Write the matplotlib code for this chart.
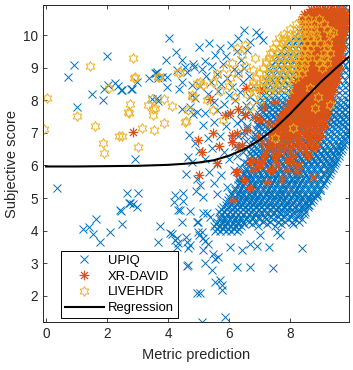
import numpy as np
import matplotlib.pyplot as plt
from matplotlib.path import Path

plt.rcParams['font.family'] = ['Liberation Sans', 'DejaVu Sans']

# ---- UPIQ: scattered points (x, y)
upiq_sparse_x = [0.72, 0.9, 2.0, 1.02, 1.5, 1.88, 1.9, 2.02, 2.26, 2.37, 2.45, 2.79, 2.97, 2.92,
                 3.38, 3.57, 3.63, 3.48, 3.67, 3.93, 3.96, 3.96, 4.04, 4.26, 3.67, 4.3, 4.36,
                 4.46, 4.82, 4.56, 4.85, 4.62, 3.6, 3.8, 4.46, 2.82, 2.49, 4.79, 4.79, 4.89,
                 3.64, 4.46, 4.72, 4.82, 4.95, 4.66,
                 0.36, 1.21, 1.41, 1.54, 1.64, 1.77, 2.1, 2.49, 2.46, 2.66, 2.72, 2.85, 2.97,
                 3.02, 3.74, 3.67, 4.07, 4.13, 4.23, 4.2, 4.3, 4.33, 4.33, 4.3, 2.75, 2.43,
                 4.49, 4.49, 4.39, 4.72, 4.46, 4.92, 4.23, 4.59, 4.62, 4.72, 4.66, 4.62, 4.95,
                 4.98, 4.95, 5.15, 5.6, 4.98, 5.15, 5.28, 5.38, 5.11, 5.02, 5.15, 5.21, 5.31,
                 5.15, 4.66, 5.21, 5.48, 5.54, 5.64, 5.44, 5.54, 5.7, 5.77, 5.77, 5.05, 5.87,
                 5.11, 6.03, 6.43, 6.26, 6.69, 7.44, 6.69, 6.92, 7.31, 8.39, 7.02, 7.67, 7.57,
                 8.98, 8.66, 8.43, 9.31, 8.6, 8.9]
upiq_sparse_y = [8.71, 9.08, 9.36, 7.8, 8.19, 8.0, 8.34, 8.47, 8.53, 8.44, 8.31, 8.34, 8.56, 6.19,
                 8.68, 8.84, 8.87, 8.03, 8.68, 9.23, 8.4, 8.71, 9.9, 9.48, 7.97, 8.93, 8.34,
                 9.23, 9.11, 9.02, 9.02, 8.87, 8.84, 8.71, 8.56, 8.34, 8.31, 8.47, 8.16, 8.06,
                 8.06, 7.73, 7.79, 7.58, 7.64, 6.26,
                 5.31, 4.05, 4.11, 3.9, 4.36, 3.65, 3.96, 4.2, 4.6, 5.15, 4.85, 4.82, 4.72,
                 5.15, 4.14, 3.65, 3.93, 3.9, 5.09, 4.89, 3.77, 4.63, 3.62, 3.5, 4.85, 4.63,
                 5.15, 4.91, 4.63, 4.6, 4.26, 5.21, 3.71, 3.8, 3.65, 3.56, 3.47, 2.91, 4.26,
                 3.96, 2.09, 5.03, 5.12, 4.26, 4.54, 4.54, 4.42, 3.96, 3.87, 3.77, 3.68, 3.59,
                 3.4, 2.94, 3.0, 3.28, 3.13, 3.19, 2.79, 2.42, 2.48, 2.33, 2.18, 2.09, 1.35,
                 1.2, 3.5, 3.4, 2.88, 2.88, 2.85, 3.59, 3.53, 3.5, 3.47, 3.87, 3.87, 3.96,
                 5.25, 4.94, 4.69, 5.95, 4.8, 5.05]

# ---- UPIQ: medium density area left of the main cloud
upiq_mid_x = [5.0, 5.2, 5.35, 5.55, 5.7, 5.9, 6.05, 6.25, 6.4, 6.6, 5.1, 5.45, 5.8, 6.15, 6.5,
              5.25, 5.6, 5.95, 6.3, 6.65, 5.05, 5.4, 5.75, 6.1, 6.45, 6.8, 5.3, 5.65, 6.0,
              6.35, 6.7, 5.5, 5.85, 6.2, 6.55, 6.9, 5.2, 5.6, 6.0, 6.4, 6.8, 5.15, 5.5, 5.9,
              6.25, 6.6, 6.95, 4.7, 4.9, 5.3, 5.7, 6.1, 6.5, 6.85, 5.0, 5.45, 5.85, 6.2, 6.55,
              4.8, 5.2, 5.6, 6.0, 4.6, 4.95, 5.35, 5.75, 6.15, 6.6, 5.05, 5.5, 5.95, 6.35,
              6.75, 7.1, 6.3, 6.7, 7.0, 6.5, 6.9,
              6.3, 6.45, 6.35, 6.5, 6.25, 6.45, 6.4, 6.55, 6.3, 6.5, 6.6, 6.4, 6.55, 6.65]
upiq_mid_y = [9.65, 9.2, 9.75, 9.4, 9.6, 9.35, 9.7, 9.5, 9.25, 9.55, 8.95, 9.05, 9.1, 8.95, 9.0,
              8.75, 8.8, 8.7, 8.85, 8.75, 8.45, 8.55, 8.5, 8.4, 8.55, 8.45, 8.2, 8.3, 8.15,
              8.25, 8.1, 7.95, 7.9, 8.0, 7.85, 7.95, 7.6, 7.7, 7.55, 7.65, 7.5, 7.25, 7.35, 7.2,
              7.3, 7.15, 7.25, 6.95, 6.7, 6.85, 6.9, 6.8, 6.95, 6.85, 6.45, 6.55, 6.4, 6.6, 6.5,
              6.1, 6.2, 6.05, 6.2, 5.75, 5.6, 5.8, 5.7, 5.85, 5.65, 5.4, 5.45, 5.35, 5.5,
              5.4, 9.85, 9.9, 9.8, 10.0, 10.15, 10.1,
              5.6, 5.75, 5.95, 6.1, 6.3, 6.4, 6.6, 6.75, 6.9, 7.05, 7.2, 7.4, 7.55, 7.7]

# ---- UPIQ: dense cloud, one row per subjective score level
upiq_rows = [
    (3.98, [5.55, 5.72, 5.9, 6.08, 6.25]),
    (4.05, [5.62, 5.8, 5.98, 6.16, 6.34]),
    (4.13, [5.5, 5.68, 5.85, 6.03, 6.2, 6.38, 6.95, 7.5]),
    (4.2, [5.58, 5.76, 5.94, 6.12, 6.3, 6.48, 6.75, 7.25, 7.7, 8.1]),
    (4.28, [5.62, 5.78, 5.95, 6.12, 6.3, 6.47, 6.65, 6.88, 7.1, 7.35, 7.6, 7.85, 8.05, 8.28]),
    (4.35, [5.7, 5.87, 6.04, 6.21, 6.39, 6.56, 6.75, 6.97, 7.2, 7.45, 7.7, 7.95, 8.18, 8.38]),
    (4.42, [5.7, 5.88, 6.05, 6.22, 6.4, 6.58, 6.78, 6.98, 7.18, 7.38, 7.6, 7.82, 8.02, 8.25]),
    (4.5, [5.75, 5.93, 6.11, 6.28, 6.46, 6.64, 6.85, 7.05, 7.25, 7.45, 7.66, 7.87, 8.08, 8.3, 8.45]),
    (4.57, [5.66, 5.84, 6.02, 6.18, 6.36, 6.55, 6.72, 6.9, 7.05, 7.24, 7.46, 7.66, 7.88, 8.1, 8.3, 8.5]),
    (4.65, [5.75, 5.93, 6.1, 6.27, 6.45, 6.63, 6.8, 6.97, 7.15, 7.34, 7.53, 7.72, 7.9, 8.08, 8.28, 8.45]),
    (4.72, [5.8, 5.98, 6.16, 6.35, 6.52, 6.7, 6.88, 7.06, 7.25, 7.43, 7.62, 7.8, 7.98, 8.18, 8.4, 8.58]),
    (4.8, [5.89, 6.07, 6.25, 6.44, 6.61, 6.79, 6.97, 7.15, 7.34, 7.52, 7.71, 7.89, 8.07, 8.27, 8.47, 8.62]),
    (4.87, [5.9, 6.1, 6.28, 6.46, 6.64, 6.82, 7.0, 7.18, 7.36, 7.55, 7.73, 7.9, 8.1, 8.28, 8.48, 8.68]),
    (4.95, [5.98, 6.19, 6.37, 6.55, 6.73, 6.91, 7.09, 7.27, 7.46, 7.64, 7.82, 8.0, 8.19, 8.38, 8.58, 8.75]),
    (5.02, [6.0, 6.2, 6.38, 6.56, 6.74, 6.92, 7.1, 7.3, 7.48, 7.66, 7.84, 8.02, 8.22, 8.4, 8.6, 8.8]),
    (5.1, [6.1, 6.29, 6.47, 6.65, 6.83, 7.01, 7.2, 7.39, 7.57, 7.75, 7.93, 8.12, 8.31, 8.5, 8.7, 8.88]),
    (5.17, [6.08, 6.28, 6.47, 6.65, 6.83, 7.02, 7.2, 7.38, 7.57, 7.75, 7.94, 8.12, 8.3, 8.5, 8.7, 8.9]),
    (5.25, [6.18, 6.37, 6.56, 6.74, 6.92, 7.11, 7.29, 7.48, 7.66, 7.85, 8.03, 8.21, 8.4, 8.6, 8.8, 8.98]),
    (5.32, [6.2, 6.38, 6.56, 6.75, 6.93, 7.12, 7.3, 7.48, 7.67, 7.85, 8.04, 8.22, 8.4, 8.6, 8.8, 9.0]),
    (5.4, [6.29, 6.47, 6.65, 6.84, 7.02, 7.21, 7.39, 7.57, 7.76, 7.94, 8.13, 8.31, 8.5, 8.7, 8.9, 9.08]),
    (5.47, [6.32, 6.5, 6.68, 6.86, 7.04, 7.22, 7.4, 7.58, 7.77, 7.95, 8.14, 8.32, 8.5, 8.7, 8.9, 9.1]),
    (5.55, [6.41, 6.59, 6.77, 6.95, 7.13, 7.31, 7.49, 7.68, 7.86, 8.05, 8.23, 8.41, 8.6, 8.8, 9.0, 9.18]),
    (5.62, [6.4, 6.58, 6.77, 6.95, 7.13, 7.32, 7.5, 7.68, 7.87, 8.05, 8.24, 8.42, 8.6, 8.8, 9.0, 9.2]),
    (5.7, [6.49, 6.68, 6.86, 7.04, 7.23, 7.41, 7.59, 7.78, 7.96, 8.15, 8.33, 8.51, 8.7, 8.9, 9.1, 9.28]),
    (5.77, [6.48, 6.66, 6.85, 7.03, 7.22, 7.4, 7.58, 7.77, 7.95, 8.14, 8.32, 8.5, 8.7, 8.9, 9.1, 9.3]),
    (5.85, [6.57, 6.75, 6.94, 7.12, 7.31, 7.49, 7.68, 7.86, 8.05, 8.23, 8.41, 8.6, 8.8, 9.0, 9.2, 9.36]),
    (5.92, [6.55, 6.74, 6.92, 7.1, 7.3, 7.48, 7.66, 7.85, 8.04, 8.22, 8.4, 8.6, 8.8, 9.0, 9.2, 9.4]),
    (6.0, [6.64, 6.83, 7.01, 7.2, 7.39, 7.57, 7.76, 7.95, 8.13, 8.31, 8.5, 8.7, 8.9, 9.1, 9.3, 9.44]),
    (6.07, [6.6, 6.8, 6.98, 7.17, 7.36, 7.55, 7.74, 7.92, 8.1, 8.3, 8.48, 8.68, 8.88, 9.08, 9.28, 9.48]),
    (6.15, [6.7, 6.89, 7.08, 7.27, 7.45, 7.64, 7.83, 8.02, 8.2, 8.39, 8.58, 8.78, 8.98, 9.18, 9.38, 9.52]),
    (6.22, [6.66, 6.85, 7.04, 7.23, 7.42, 7.6, 7.8, 7.98, 8.18, 8.36, 8.56, 8.75, 8.95, 9.15, 9.35, 9.55]),
    (6.3, [6.76, 6.95, 7.13, 7.32, 7.51, 7.7, 7.89, 8.08, 8.27, 8.46, 8.65, 8.85, 9.05, 9.25, 9.45, 9.6]),
    (6.37, [6.7, 6.9, 7.1, 7.28, 7.48, 7.66, 7.86, 8.05, 8.24, 8.44, 8.62, 8.82, 9.02, 9.22, 9.42, 9.62]),
    (6.45, [6.8, 7.0, 7.19, 7.38, 7.57, 7.76, 7.95, 8.14, 8.33, 8.52, 8.71, 8.91, 9.11, 9.31, 9.51, 9.66]),
    (6.52, [6.72, 6.92, 7.12, 7.32, 7.52, 7.7, 7.9, 8.1, 8.3, 8.5, 8.7, 8.9, 9.1, 9.3, 9.5, 9.7]),
    (6.6, [6.82, 7.02, 7.22, 7.42, 7.61, 7.8, 8.0, 8.2, 8.4, 8.6, 8.8, 9.0, 9.2, 9.4, 9.58, 9.73]),
    (6.67, [6.78, 6.98, 7.18, 7.38, 7.58, 7.78, 7.98, 8.18, 8.38, 8.58, 8.78, 8.98, 9.18, 9.38, 9.58, 9.76]),
    (6.75, [6.88, 7.08, 7.28, 7.48, 7.68, 7.88, 8.08, 8.28, 8.48, 8.68, 8.88, 9.08, 9.28, 9.48, 9.66, 9.8]),
    (6.82, [6.8, 7.0, 7.2, 7.4, 7.6, 7.8, 8.0, 8.2, 8.4, 8.6, 8.8, 9.0, 9.2, 9.4, 9.6, 9.8]),
    (6.9, [6.9, 7.1, 7.3, 7.5, 7.7, 7.9, 8.1, 8.3, 8.5, 8.7, 8.9, 9.1, 9.3, 9.5, 9.7, 9.86]),
    (6.97, [6.85, 7.05, 7.25, 7.45, 7.65, 7.85, 8.05, 8.25, 8.45, 8.65, 8.85, 9.05, 9.25, 9.45, 9.65, 9.85]),
    (7.05, [6.95, 7.15, 7.35, 7.55, 7.75, 7.95, 8.15, 8.35, 8.55, 8.75, 8.95, 9.15, 9.35, 9.55, 9.75, 9.9]),
    (7.12, [6.88, 7.08, 7.28, 7.48, 7.68, 7.88, 8.08, 8.28, 8.48, 8.68, 8.88, 9.08, 9.28, 9.48, 9.68, 9.9]),
    (7.2, [6.98, 7.18, 7.38, 7.58, 7.78, 7.98, 8.18, 8.38, 8.58, 8.78, 8.98, 9.18, 9.38, 9.58, 9.78]),
    (7.27, [6.92, 7.12, 7.32, 7.52, 7.72, 7.92, 8.12, 8.32, 8.52, 8.72, 8.92, 9.12, 9.32, 9.52, 9.72, 9.9]),
    (7.35, [7.02, 7.22, 7.42, 7.62, 7.82, 8.02, 8.22, 8.42, 8.62, 8.82, 9.02, 9.22, 9.42, 9.62, 9.82]),
    (7.42, [6.95, 7.15, 7.35, 7.55, 7.75, 7.95, 8.15, 8.35, 8.55, 8.75, 8.95, 9.15, 9.35, 9.55, 9.75, 9.9]),
    (7.5, [7.05, 7.25, 7.45, 7.65, 7.85, 8.05, 8.25, 8.45, 8.65, 8.85, 9.05, 9.25, 9.45, 9.65, 9.85]),
    (7.57, [7.0, 7.2, 7.4, 7.6, 7.8, 8.0, 8.2, 8.4, 8.6, 8.8, 9.0, 9.2, 9.4, 9.6, 9.8]),
    (7.65, [7.1, 7.3, 7.5, 7.7, 7.9, 8.1, 8.3, 8.5, 8.7, 8.9, 9.1, 9.3, 9.5, 9.7, 9.9]),
    (7.72, [7.02, 7.22, 7.42, 7.62, 7.82, 8.02, 8.22, 8.42, 8.62, 8.82, 9.02, 9.22, 9.42, 9.62, 9.82]),
    (7.8, [7.12, 7.32, 7.52, 7.72, 7.92, 8.12, 8.32, 8.52, 8.72, 8.92, 9.12, 9.32, 9.52, 9.72, 9.9]),
    (7.87, [7.05, 7.25, 7.45, 7.65, 7.85, 8.05, 8.25, 8.45, 8.65, 8.85, 9.05, 9.25, 9.45, 9.65, 9.88]),
    (7.95, [7.15, 7.35, 7.55, 7.75, 7.95, 8.15, 8.35, 8.55, 8.75, 8.95, 9.15, 9.35, 9.55, 9.75]),
    (8.02, [7.08, 7.28, 7.48, 7.68, 7.88, 8.08, 8.28, 8.48, 8.68, 8.88, 9.08, 9.28, 9.48, 9.68, 9.9]),
    (8.17, [7.1, 7.3, 7.5, 7.7, 7.9, 8.1, 8.3, 8.5, 8.7, 8.9, 9.1, 9.3, 9.5, 9.7, 9.9]),
    (8.32, [7.12, 7.32, 7.52, 7.72, 7.92, 8.12, 8.32, 8.52, 8.72, 8.92, 9.12, 9.32, 9.52, 9.72, 9.9]),
    (8.47, [7.15, 7.35, 7.55, 7.75, 7.95, 8.15, 8.35, 8.55, 8.75, 8.95, 9.15, 9.35, 9.55, 9.75, 9.9]),
    (8.62, [7.2, 7.4, 7.6, 7.8, 8.0, 8.2, 8.4, 8.6, 8.8, 9.0, 9.2, 9.4, 9.6, 9.8]),
    (8.77, [7.28, 7.48, 7.68, 7.88, 8.08, 8.28, 8.48, 8.68, 8.88, 9.08, 9.28, 9.48, 9.68, 9.9]),
    (8.92, [7.35, 7.55, 7.75, 7.95, 8.15, 8.35, 8.55, 8.75, 8.95, 9.15, 9.35, 9.55, 9.75, 9.9]),
    (9.07, [7.42, 7.62, 7.82, 8.02, 8.22, 8.42, 8.62, 8.82, 9.02, 9.22, 9.42, 9.62, 9.82]),
    (9.22, [7.5, 7.7, 7.9, 8.1, 8.3, 8.5, 8.7, 8.9, 9.1, 9.3, 9.5, 9.7, 9.9]),
    (9.37, [7.58, 7.78, 7.98, 8.18, 8.38, 8.58, 8.78, 8.98, 9.18, 9.38, 9.58, 9.78]),
    (9.52, [7.7, 7.9, 8.1, 8.3, 8.5, 8.7, 8.9, 9.1, 9.3, 9.5, 9.7, 9.9]),
    (9.67, [7.85, 8.05, 8.25, 8.45, 8.65, 8.85, 9.05, 9.25, 9.45, 9.65, 9.85]),
    (9.82, [8.0, 8.2, 8.4, 8.6, 8.8, 9.0, 9.2, 9.4, 9.6, 9.8]),
    (9.97, [8.15, 8.35, 8.55, 8.75, 8.95, 9.15, 9.35, 9.55, 9.75, 9.92]),
    (10.12, [8.3, 8.5, 8.7, 8.9, 9.1, 9.3, 9.5, 9.7, 9.9]),
    (10.27, [8.45, 8.65, 8.85, 9.05, 9.25, 9.45, 9.65, 9.85]),
    (10.42, [8.55, 8.75, 8.95, 9.15, 9.35, 9.55, 9.75, 9.92]),
    (10.57, [8.7, 8.9, 9.1, 9.3, 9.5, 9.7, 9.9]),
    (10.72, [8.85, 9.05, 9.25, 9.45, 9.65, 9.85]),
    (10.85, [9.1, 9.35, 9.6, 9.8]),
]

# ---- XR-DAVID
xr_sparse_x = [2.85, 4.98, 5.11, 5.48, 5.67, 5.02, 5.6, 6.23, 6.69, 7.02, 6.56, 6.03, 5.87, 6.3,
               6.52, 5.38, 6.1, 6.1, 6.26, 6.43, 6.3, 6.26, 6.49, 6.13, 7.02, 7.28, 6.95, 7.08,
               6.79, 7.08, 6.79, 6.95, 7.34, 7.34, 8.75, 8.23, 7.41, 8.0, 7.6, 7.9, 8.3, 8.6,
               6.6, 6.85, 7.15, 7.5, 6.7, 7.25, 7.75]
xr_sparse_y = [7.02, 6.78, 6.41, 6.99, 6.6, 5.71, 6.07, 5.8, 6.1, 8.31, 8.37, 7.61, 7.55, 7.73,
               7.55, 8.03, 6.93, 6.72, 6.99, 6.63, 6.56, 5.8, 5.55, 4.95, 7.39, 7.3, 6.87, 6.69,
               6.17, 6.1, 5.86, 5.98, 5.86, 6.69, 5.64, 5.8, 5.86, 6.1, 6.35, 6.2, 6.0, 6.3,
               7.1, 7.5, 7.8, 7.95, 5.3, 5.5, 5.6]
xr_rows = [
    (10.8, [8.7, 8.85, 9.0, 9.15, 9.3, 9.45, 9.6, 9.75]),
    (10.72, [8.62, 8.78, 8.92, 9.08, 9.22, 9.38, 9.52, 9.68, 9.82]),
    (10.65, [8.45, 8.6, 8.75, 8.9, 9.05, 9.2, 9.35, 9.5, 9.65, 9.8]),
    (10.57, [8.48, 8.62, 8.78, 8.92, 9.08, 9.22, 9.38, 9.52, 9.68, 9.82]),
    (10.5, [8.4, 8.55, 8.7, 8.85, 9.0, 9.15, 9.3, 9.45, 9.6, 9.75, 9.88]),
    (10.42, [8.42, 8.58, 8.72, 8.88, 9.02, 9.18, 9.32, 9.48, 9.62, 9.78]),
    (10.35, [8.45, 8.6, 8.75, 8.9, 9.05, 9.2, 9.35, 9.5, 9.65, 9.8]),
    (10.27, [8.48, 8.62, 8.78, 8.92, 9.08, 9.22, 9.38, 9.52, 9.68, 9.82]),
    (10.2, [8.5, 8.65, 8.8, 8.95, 9.1, 9.25, 9.4, 9.55, 9.7, 9.85]),
    (10.12, [8.52, 8.68, 8.82, 8.98, 9.12, 9.28, 9.42, 9.58, 9.72]),
    (10.05, [8.55, 8.7, 8.85, 9.0, 9.15, 9.3, 9.45, 9.6, 9.75]),
    (9.97, [8.48, 8.62, 8.78, 8.92, 9.08, 9.22, 9.38, 9.52, 9.68]),
    (9.9, [8.55, 8.7, 8.85, 9.0, 9.15, 9.3, 9.45, 9.6, 9.75]),
    (9.82, [8.48, 8.62, 8.78, 8.92, 9.08, 9.22, 9.38, 9.52, 9.68]),
    (9.75, [8.55, 8.7, 8.85, 9.0, 9.15, 9.3, 9.45, 9.6, 9.72]),
    (9.67, [8.48, 8.62, 8.78, 8.92, 9.08, 9.22, 9.38, 9.52, 9.66]),
    (9.6, [8.5, 8.65, 8.8, 8.95, 9.1, 9.25, 9.4, 9.55, 9.7]),
    (9.52, [8.42, 8.58, 8.72, 8.88, 9.02, 9.18, 9.32, 9.48, 9.62]),
    (9.45, [8.5, 8.65, 8.8, 8.95, 9.1, 9.25, 9.4, 9.55, 9.68]),
    (9.37, [8.42, 8.58, 8.72, 8.88, 9.02, 9.18, 9.32, 9.48, 9.6]),
    (9.3, [8.45, 8.6, 8.75, 8.9, 9.05, 9.2, 9.35, 9.5, 9.65]),
    (9.22, [8.38, 8.52, 8.68, 8.82, 8.98, 9.12, 9.28, 9.42, 9.56]),
    (9.15, [8.45, 8.6, 8.75, 8.9, 9.05, 9.2, 9.35, 9.5, 9.62]),
    (9.07, [8.35, 8.48, 8.62, 8.78, 8.92, 9.08, 9.22, 9.38, 9.52]),
    (9.0, [8.4, 8.55, 8.7, 8.85, 9.0, 9.15, 9.3, 9.45, 9.6]),
    (8.92, [8.32, 8.48, 8.62, 8.78, 8.92, 9.08, 9.22, 9.38, 9.5]),
    (8.85, [8.4, 8.55, 8.7, 8.85, 9.0, 9.15, 9.3, 9.45, 9.58]),
    (8.77, [8.28, 8.42, 8.58, 8.72, 8.88, 9.02, 9.18, 9.32, 9.48]),
    (8.7, [8.35, 8.5, 8.65, 8.8, 8.95, 9.1, 9.25, 9.4, 9.55]),
    (8.62, [8.22, 8.38, 8.52, 8.68, 8.82, 8.98, 9.12, 9.28, 9.42]),
    (8.55, [8.3, 8.45, 8.6, 8.75, 8.9, 9.05, 9.2, 9.35, 9.5]),
    (8.47, [8.18, 8.32, 8.48, 8.62, 8.78, 8.92, 9.08, 9.22, 9.38]),
    (8.4, [8.25, 8.4, 8.55, 8.7, 8.85, 9.0, 9.15, 9.3, 9.45]),
    (8.32, [8.12, 8.28, 8.42, 8.58, 8.72, 8.88, 9.02, 9.18, 9.32]),
    (8.25, [8.2, 8.35, 8.5, 8.65, 8.8, 8.95, 9.1, 9.25, 9.4]),
    (8.17, [8.08, 8.22, 8.38, 8.52, 8.68, 8.82, 8.98, 9.12, 9.28]),
    (8.1, [8.15, 8.3, 8.45, 8.6, 8.75, 8.9, 9.05, 9.2, 9.35]),
    (8.02, [8.02, 8.18, 8.32, 8.48, 8.62, 8.78, 8.92, 9.08, 9.22]),
    (7.95, [8.1, 8.25, 8.4, 8.55, 8.7, 8.85, 9.0, 9.15, 9.3]),
    (7.87, [7.95, 8.1, 8.28, 8.42, 8.58, 8.72, 8.88, 9.02, 9.18]),
    (7.8, [8.0, 8.2, 8.35, 8.5, 8.65, 8.8, 8.95, 9.1, 9.25]),
    (7.72, [7.85, 8.05, 8.2, 8.38, 8.52, 8.68, 8.82, 8.98, 9.12]),
    (7.65, [7.9, 8.1, 8.3, 8.45, 8.6, 8.75, 8.9, 9.05, 9.2]),
    (7.57, [7.75, 7.95, 8.15, 8.3, 8.5, 8.7, 8.9, 9.1]),
    (7.5, [7.8, 8.0, 8.2, 8.4, 8.6, 8.8, 9.0, 9.2]),
    (7.42, [7.65, 7.9, 8.1, 8.3, 8.45, 8.65, 8.9, 9.1]),
    (7.35, [7.7, 7.95, 8.15, 8.35, 8.55, 8.8, 9.05]),
    (7.27, [7.55, 7.8, 8.05, 8.25, 8.5, 8.7, 8.95]),
    (7.2, [7.6, 7.85, 8.1, 8.35, 8.6, 8.85, 9.1]),
    (7.12, [7.5, 7.7, 7.95, 8.2, 8.5, 8.75, 9.05]),
    (7.05, [7.55, 7.8, 8.05, 8.3, 8.6, 8.9]),
    (6.97, [7.4, 7.65, 7.9, 8.15, 8.45, 8.8]),
    (6.9, [7.45, 7.75, 8.0, 8.3, 8.65, 9.0]),
    (6.82, [7.55, 7.9, 8.2, 8.55, 8.9]),
    (6.75, [7.35, 7.7, 8.0, 8.35, 8.7]),
    (6.67, [7.45, 7.85, 8.25, 8.65]),
    (6.6, [7.3, 7.65, 8.05, 8.45, 8.85]),
    (6.52, [7.4, 7.8, 8.3, 8.75]),
    (6.45, [7.2, 7.6, 8.0, 8.5]),
    (6.3, [7.15, 7.55, 8.1, 8.6]),
    (6.15, [7.05, 7.5, 8.0]),
    (6.0, [7.0, 7.6, 8.2]),
    (5.85, [7.4, 7.9]),
]

# ---- LIVEHDR
live_sparse_x = [0.03, -0.08, 1.02, 1.44, 1.61, 1.87, 1.9, 2.07, 2.39, 2.72, 2.75, 2.85, 2.92, 3.02,
                 3.15, 3.34, 3.48, 3.51, 3.51, 3.54, 3.57, 3.67, 3.87, 3.87, 4.13, 4.33, 2.89,
                 3.7, 4.95, 4.79, 2.69, 4.66, 4.59, 2.49, 4.39, 5.05, 5.15, 5.48, 4.82, 5.28,
                 4.56, 5.8, 5.48, 6.2, 6.03, 6.52, 6.43, 6.1, 6.79, 7.11, 7.34, 7.77, 8.1, 7.9,
                 7.57, 7.93, 7.02, 6.69, 8.1, 7.51, 8.92, 8.82, 5.7, 6.0, 6.3, 6.6, 6.9, 5.9,
                 6.25, 6.55, 6.85, 7.2, 5.6, 9.31, 8.66, 9.4]
live_sparse_y = [8.07, 7.12, 7.52, 9.05, 7.21, 6.69, 6.38, 8.37, 6.9, 7.61, 7.88, 9.29, 8.71, 6.56,
                 7.15, 7.85, 8.03, 7.73, 7.55, 7.09, 7.76, 8.71, 7.3, 8.03, 7.82, 8.84, 8.68,
                 8.71, 8.53, 8.16, 7.64, 7.7, 7.36, 6.9, 8.87, 8.56, 8.47, 8.56, 8.1, 8.0,
                 7.33, 7.39, 7.7, 8.1, 8.68, 9.69, 9.39, 9.14, 8.93, 8.62, 9.45, 9.85, 9.54, 8.93,
                 8.31, 8.31, 8.0, 7.79, 7.15, 6.84, 8.1, 7.76, 8.3, 8.45, 8.85, 8.2, 8.4, 9.0,
                 9.6, 9.05, 9.3, 9.2, 8.8, 7.85, 8.37, 10.1]
live_rows = [
    (10.5, [8.4, 8.6, 8.95]),
    (10.35, [8.2, 8.4, 8.6, 8.8, 9.1]),
    (10.2, [8.0, 8.2, 8.4, 8.6, 8.8, 9.2]),
    (10.05, [7.8, 8.0, 8.2, 8.4, 8.6, 8.85, 9.3]),
    (9.9, [7.65, 7.85, 8.05, 8.25, 8.45, 8.65, 8.9]),
    (9.75, [7.55, 7.75, 7.95, 8.15, 8.35, 8.55, 8.75, 9.0, 9.25]),
    (9.6, [7.45, 7.65, 7.85, 8.05, 8.25, 8.45, 8.65, 9.2]),
    (9.45, [7.4, 7.6, 7.8, 8.0, 8.2, 8.4, 8.6, 9.1, 9.3]),
    (9.3, [7.3, 7.55, 7.75, 7.95, 8.15, 8.35, 8.55, 8.9, 9.15]),
    (9.15, [7.2, 7.45, 7.7, 7.9, 8.1, 8.3, 8.5, 8.95, 9.2]),
    (9.0, [7.1, 7.35, 7.6, 7.85, 8.05, 8.25, 8.45, 9.05]),
    (8.85, [7.0, 7.3, 7.55, 7.8, 8.0, 8.2, 8.4]),
    (8.7, [6.9, 7.2, 7.45, 7.7, 7.95, 8.15]),
    (8.55, [6.8, 7.1, 7.4, 7.65, 7.9]),
    (8.4, [6.75, 7.05, 7.35, 7.6]),
    (8.25, [6.9, 7.3]),
]

# ---- regression curve
reg_x = [0, 1, 2, 3, 4, 4.5, 5, 5.5, 6, 6.5, 7, 7.5, 8, 8.5, 9, 9.5, 9.93]
reg_y = [5.97, 5.97, 5.98, 5.99, 6.02, 6.05, 6.09, 6.16, 6.3, 6.5, 6.78, 7.14, 7.58, 8.07, 8.55, 8.98, 9.33]


def expand(rows):
    xs, ys = [], []
    for y, row in rows:
        xs += row
        ys += [y] * len(row)
    return xs, ys


ux, uy = expand(upiq_rows)
ux = upiq_sparse_x + upiq_mid_x + ux
uy = upiq_sparse_y + upiq_mid_y + uy
xx, xy = expand(xr_rows)
xx = xr_sparse_x + xx
xy = xr_sparse_y + xy
lx, ly = expand(live_rows)
lx = live_sparse_x + lx
ly = live_sparse_y + ly

# six-pointed star outline (MATLAB 'hexagram')
ang = np.pi / 2 + np.arange(12) * np.pi / 6
rad = np.where(np.arange(12) % 2 == 0, 1.0, 0.58)
verts = np.column_stack([rad * np.cos(ang), rad * np.sin(ang)])
hexagram = Path(np.vstack([verts, verts[:1]]), closed=True)

# asterisk made of four strokes (MATLAB '*')
d = 0.72
asterisk = Path([(-1, 0), (1, 0), (0, -1), (0, 1), (-d, -d), (d, d), (-d, d), (d, -d)],
                [Path.MOVETO, Path.LINETO] * 4)

fig = plt.figure(figsize=(3.53, 3.70), dpi=100)
ax = fig.add_axes([0.122, 0.130, 0.867, 0.856])

ax.plot(ux, uy, 'x', color='#0072BD', ms=5.5, mew=0.7, label='UPIQ')
ax.plot(xx, xy, ls='none', marker=asterisk, mfc='none', mec='#D95319', ms=7, mew=0.9,
        label='XR-DAVID')
ax.plot(lx, ly, ls='none', marker=hexagram, mfc='none', mec='#EDB120', ms=7, mew=0.7,
        label='LIVEHDR')
ax.plot(reg_x, reg_y, '-', color='black', lw=1.5, label='Regression')

ax.set_xlim(-0.1, 9.94)
ax.set_ylim(1.2, 10.92)
ax.set_xticks([0, 2, 4, 6, 8])
ax.set_yticks([2, 3, 4, 5, 6, 7, 8, 9, 10])
ax.tick_params(direction='in', length=3, width=0.6, labelsize=9.8, top=True, right=True,
               colors='#262626')
for s in ax.spines.values():
    s.set_linewidth(0.7)
    s.set_color('#262626')
ax.set_xlabel('Metric prediction', fontsize=10.5, color='#262626', labelpad=5)
ax.set_ylabel('Subjective score', fontsize=10.5, color='#262626', labelpad=3)

leg = ax.legend(loc='lower left', bbox_to_anchor=(0.058, 0.012), fontsize=9.4, frameon=True,
                fancybox=False, edgecolor='black', framealpha=1, handlelength=3.0,
                borderpad=0.3, labelspacing=0.28, handletextpad=0.3, borderaxespad=0)
leg.get_frame().set_linewidth(0.7)

fig.savefig('out.png', dpi=100)
